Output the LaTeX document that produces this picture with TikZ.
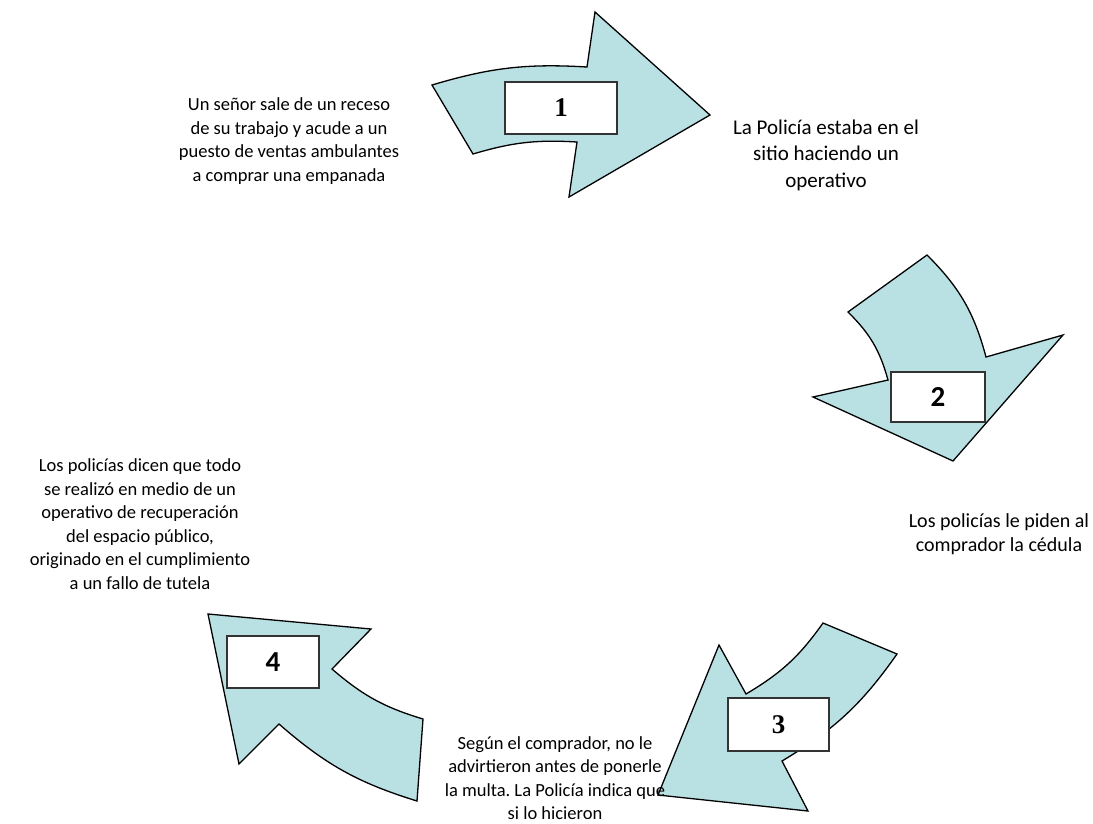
\documentclass[tikz,border=0pt]{standalone}
\usepackage{fontspec}
\setmainfont{Carlito}
\newfontfamily\numserif{Liberation Serif}
\definecolor{celeste}{RGB}{185,224,227}
\frenchspacing

\begin{document}
\begin{tikzpicture}[x=1pt, y=-1pt,
    flecha/.style={draw=black, fill=celeste, line width=1.3pt, line join=miter},
    caja/.style={draw=black!80, fill=white, line width=1.1pt, inner sep=0pt,
      minimum width=#1, minimum height=52pt},
    numserif/.style={font=\numserif\bfseries\fontsize{27}{27}\selectfont},
    numsans/.style={font=\bfseries\fontsize{29}{29}\selectfont},
    texto/.style={align=center, font=\fontsize{18.5}{23.5}\selectfont}]
        \useasboundingbox (0,0) rectangle (1093,823);
        \draw[flecha] (432,85) to[bend left=10] (587,67) -- (595,12) -- (710,115)
        -- (569,197) -- (577,142) to[bend right=10] (473,154) -- cycle;
        \draw[flecha] (888,380) to[bend right=15] (848,312) -- (927,255)
        to[bend left=15] (986,357) -- (1063,335) -- (953,461) -- (813,397) -- cycle;
        \draw[flecha] (746,694) to[bend right=12] (823,623) -- (897,654)
        to[bend left=12] (782,761) -- (808,811) -- (658,795) -- (719,645) -- cycle;
        \draw[flecha] (332,669) to[bend right=12] (423,719) -- (417,801)
        to[bend left=12] (279,724) -- (239,764) -- (208,614) -- (371,629) -- cycle;
        \node[caja=112pt, numserif] (uno) at (561,108) {1};
        \node[caja=94pt, minimum height=50pt, numsans] (dos) at (938,397) {2};
        \node[caja=101pt, minimum height=53pt, numserif] (tres) at (778.5,724.5) {3};
        \node[caja=92pt, numsans] (cuatro) at (273,662) {4};
        \node[texto] (senor) at (289,141) {Un señor sale de un receso\\de su trabajo y acude a un\\puesto de ventas ambulantes\\a comprar una empanada};
        \node[texto, font=\fontsize{21}{26.5}\selectfont] (operativo) at (826,155)
        {La Policía estaba en el\\sitio haciendo un\\operativo};
        \node[texto, font=\fontsize{20}{24}\selectfont] (cedula) at (999,534)
        {Los policías le piden al\\comprador la cédula};
        \node[texto] (multa) at (555,778) {Según el comprador, no le\\advirtieron antes de ponerle\\la multa. La Policía indica que\\si lo hicieron};
        \node[texto] (tutela) at (140,524) {Los policías dicen que todo\\se realizó en medio de un\\operativo de recuperación\\del espacio público,\\originado en el cumplimiento\\a un fallo de tutela};
      \end{tikzpicture}
\end{document}
